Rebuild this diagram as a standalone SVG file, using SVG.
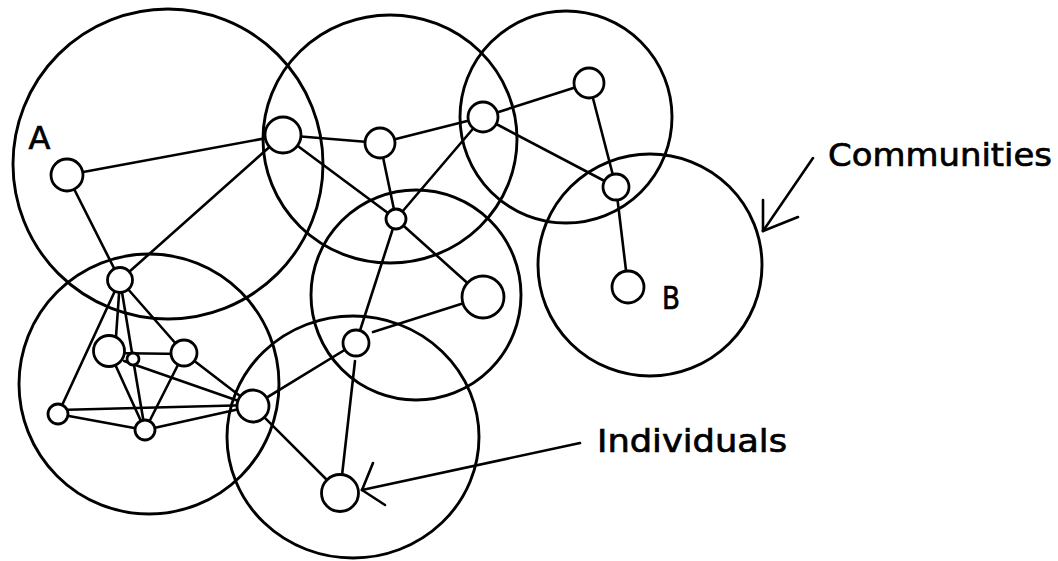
<svg xmlns="http://www.w3.org/2000/svg" width="1058" height="561" viewBox="0 0 1058 561">
<style>
.comm{fill:none;stroke:#000;stroke-width:2.9}
.edge{stroke:#000;stroke-width:2.6;fill:none;stroke-linecap:round}
.node{fill:#fff;stroke:#000;stroke-width:2.8}
.lbl{font-family:"DejaVu Sans","Liberation Sans",sans-serif;font-size:32px;fill:#000;stroke:#000;stroke-width:0.7}
</style>
<rect width="1058" height="561" fill="#fff"/>
<g id="communities">
<circle id="community-A" class="comm" cx="168" cy="164" r="155"/>
<ellipse id="community-top-middle" class="comm" cx="390" cy="139" rx="127" ry="124"/>
<circle id="community-top-right" class="comm" cx="566" cy="117" r="106"/>
<ellipse id="community-B" class="comm" cx="650" cy="265" rx="112" ry="111"/>
<circle id="community-center" class="comm" cx="416" cy="295" r="105"/>
<circle id="community-bottom-left" class="comm" cx="149" cy="384" r="130"/>
<ellipse id="community-bottom-middle" class="comm" cx="353" cy="437" rx="126" ry="121"/>
</g>
<g id="connectors">
<line class="edge" x1="67" y1="175" x2="283" y2="135"/>
<line class="edge" x1="67" y1="175" x2="120" y2="280"/>
<line class="edge" x1="120" y1="280" x2="283" y2="135"/>
<line class="edge" x1="283" y1="135" x2="380" y2="143"/>
<line class="edge" x1="283" y1="135" x2="396" y2="219"/>
<line class="edge" x1="380" y1="143" x2="396" y2="219"/>
<line class="edge" x1="380" y1="143" x2="483" y2="117"/>
<line class="edge" x1="483" y1="117" x2="396" y2="219"/>
<line class="edge" x1="483" y1="117" x2="589" y2="83"/>
<line class="edge" x1="483" y1="117" x2="616" y2="187"/>
<line class="edge" x1="589" y1="83" x2="616" y2="187"/>
<line class="edge" x1="616" y1="187" x2="628" y2="287"/>
<line class="edge" x1="396" y1="219" x2="483" y2="297"/>
<line class="edge" x1="396" y1="219" x2="356" y2="343"/>
<line class="edge" x1="483" y1="297" x2="373" y2="332"/>
<line class="edge" x1="356" y1="343" x2="253" y2="406"/>
<line class="edge" x1="355" y1="361" x2="340" y2="493"/>
<line class="edge" x1="253" y1="406" x2="340" y2="493"/>
<line class="edge" x1="120" y1="280" x2="58" y2="414"/>
<line class="edge" x1="120" y1="280" x2="115" y2="351"/>
<line class="edge" x1="120" y1="280" x2="133" y2="359"/>
<line class="edge" x1="120" y1="280" x2="184" y2="353"/>
<line class="edge" x1="109" y1="353" x2="184" y2="354"/>
<line class="edge" x1="124" y1="361" x2="253" y2="406"/>
<line class="edge" x1="184" y1="353" x2="253" y2="406"/>
<line class="edge" x1="184" y1="353" x2="145" y2="430"/>
<line class="edge" x1="58" y1="410" x2="253" y2="405"/>
<line class="edge" x1="58" y1="414" x2="145" y2="430"/>
<line class="edge" x1="145" y1="430" x2="253" y2="406"/>
<line class="edge" x1="109" y1="351" x2="145" y2="430"/>
<line class="edge" x1="133" y1="359" x2="145" y2="430"/>
</g>
<g id="nodes">
<circle id="node-A" class="node" cx="67" cy="175" r="16"/>
<circle id="node-P" class="node" cx="283" cy="135" r="18"/>
<circle id="node-Q" class="node" cx="380" cy="143" r="15"/>
<circle id="node-X" class="node" cx="483" cy="117" r="15"/>
<circle id="node-Y" class="node" cx="589" cy="83" r="15"/>
<circle id="node-Z" class="node" cx="616" cy="187" r="13"/>
<circle id="node-B" class="node" cx="628" cy="287" r="16"/>
<circle id="node-M" class="node" cx="396" cy="219" r="10"/>
<circle id="node-W" class="node" cx="483" cy="297" r="21"/>
<circle id="node-K" class="node" cx="356" cy="343" r="13"/>
<circle id="node-N" class="node" cx="253" cy="406" r="16"/>
<circle id="node-D" class="node" cx="340" cy="493" r="18.5"/>
<circle id="node-T" class="node" cx="120" cy="280" r="12.5"/>
<circle id="node-L" class="node" cx="109" cy="351" r="15.5"/>
<circle id="node-R" class="node" cx="184" cy="353" r="13"/>
<circle id="node-S" class="node" cx="133" cy="359" r="6"/>
<circle id="node-LB" class="node" cx="58" cy="414" r="10"/>
<circle id="node-BB" class="node" cx="145" cy="430" r="10"/>
</g>
<g id="labels">
<text class="lbl" x="39.5" y="149" text-anchor="middle" font-size="33">A</text>
<text class="lbl" x="662" y="309" textLength="18" lengthAdjust="spacingAndGlyphs" font-size="33">B</text>
<text class="lbl" x="828" y="166" textLength="224" lengthAdjust="spacingAndGlyphs">Communities</text>
<text class="lbl" x="597" y="452" textLength="190" lengthAdjust="spacingAndGlyphs">Individuals</text>
</g>
<g id="callouts">
<line class="edge" x1="763" y1="231" x2="813" y2="158"/>
<line class="edge" x1="763" y1="231" x2="763" y2="200"/>
<line class="edge" x1="763" y1="231" x2="798" y2="217"/>
<line class="edge" x1="362" y1="490" x2="580" y2="443"/>
<line class="edge" x1="362" y1="490" x2="373" y2="463"/>
<line class="edge" x1="362" y1="490" x2="385" y2="505"/>
</g>
</svg>
